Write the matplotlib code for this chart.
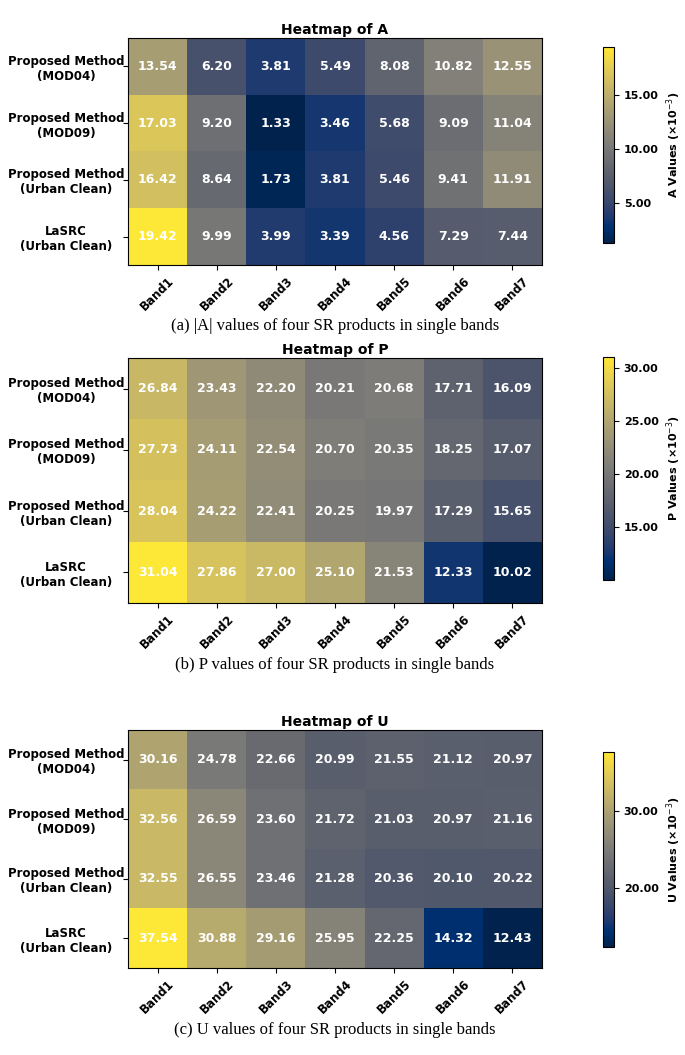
import matplotlib.pyplot as plt
import numpy as np

rows = ["Proposed Method\n(MOD04)", "Proposed Method\n(MOD09)",
        "Proposed Method\n(Urban Clean)", "LaSRC\n(Urban Clean)"]
bands = ["Band1", "Band2", "Band3", "Band4", "Band5", "Band6", "Band7"]

A_vals = [[13.54, 6.20, 3.81, 5.49, 8.08, 10.82, 12.55],
          [17.03, 9.20, 1.33, 3.46, 5.68, 9.09, 11.04],
          [16.42, 8.64, 1.73, 3.81, 5.46, 9.41, 11.91],
          [19.42, 9.99, 3.99, 3.39, 4.56, 7.29, 7.44]]
P_vals = [[26.84, 23.43, 22.20, 20.21, 20.68, 17.71, 16.09],
          [27.73, 24.11, 22.54, 20.70, 20.35, 18.25, 17.07],
          [28.04, 24.22, 22.41, 20.25, 19.97, 17.29, 15.65],
          [31.04, 27.86, 27.00, 25.10, 21.53, 12.33, 10.02]]
U_vals = [[30.16, 24.78, 22.66, 20.99, 21.55, 21.12, 20.97],
          [32.56, 26.59, 23.60, 21.72, 21.03, 20.97, 21.16],
          [32.55, 26.55, 23.46, 21.28, 20.36, 20.10, 20.22],
          [37.54, 30.88, 29.16, 25.95, 22.25, 14.32, 12.43]]

panels = [
    ("A", A_vals, [5, 10, 15], "(a) |A| values of four SR products in single bands",
     (38, 265), (47, 243), 326),
    ("P", P_vals, [15, 20, 25, 30], "(b) P values of four SR products in single bands",
     (358, 603), (357, 580), 665),
    ("U", U_vals, [20, 30], "(c) U values of four SR products in single bands",
     (730, 968), (752, 947), 1030),
]

W, H = 685, 1055
fig = plt.figure(figsize=(W / 100, H / 100), dpi=100)

for name, vals, ticks, caption, (y0, y1), (c0, c1), cy in panels:
    data = np.array(vals)
    ax = fig.add_axes([128 / W, 1 - y1 / H, (542 - 128) / W, (y1 - y0) / H])
    im = ax.imshow(data, cmap="cividis", aspect="auto")
    for i in range(data.shape[0]):
        for j in range(data.shape[1]):
            ax.text(j, i, f"{data[i, j]:.2f}", ha="center", va="center",
                    color="white", fontweight="bold", fontsize=9)
    ax.set_xticks(range(len(bands)))
    ax.set_xticklabels(bands, rotation=45, fontweight="bold", fontsize=8.5)
    ax.set_yticks(range(len(rows)))
    ax.set_yticklabels(rows, fontweight="bold", fontsize=8.5, ha="center")
    ax.tick_params(axis="y", pad=41)
    ax.set_title(f"Heatmap of {name}", fontweight="bold", fontsize=10, pad=3)
    cax = fig.add_axes([603 / W, 1 - c1 / H, 11 / W, (c1 - c0) / H])
    cb = fig.colorbar(im, cax=cax, ticks=ticks)
    cb.ax.set_yticklabels([f"{t:.2f}" for t in ticks], fontsize=8, fontweight="bold")
    cb.set_label(f"{name} Values (×10$^{{-3}}$)", fontsize=8, fontweight="bold")
    fig.text(335 / W, 1 - cy / H, caption, ha="center", va="center",
             family="Liberation Serif", fontsize=12)

plt.savefig("out.png", dpi=100)
